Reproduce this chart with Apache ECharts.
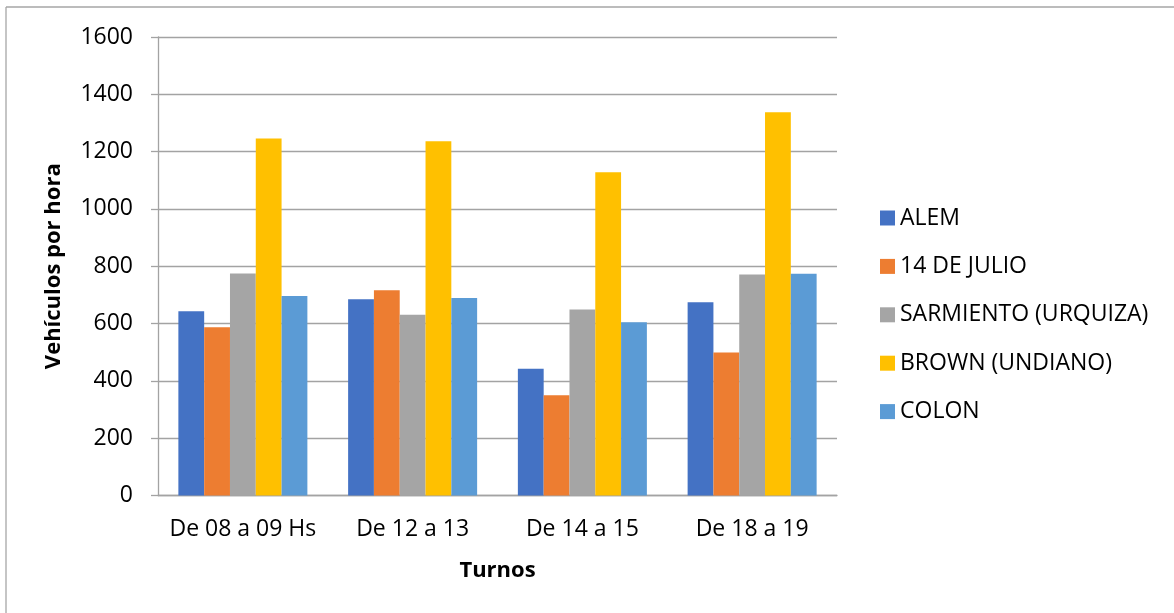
<!DOCTYPE html>
<html>
<head>
<meta charset="utf-8">
<script src="https://cdn.jsdelivr.net/npm/echarts@6/dist/echarts.min.js"></script>
<style>
  html, body { margin: 0; padding: 0; background: #fff; }
  #chart { width: 1174px; height: 613px; }
</style>
</head>
<body>
<div id="chart"></div>
<script>
// Vehículos por hora en cada intersección, por turno
const turnos = ['De 08 a 09 Hs', 'De 12 a 13', 'De 14 a 15', 'De 18 a 19'];
const alem = [643, 685, 442, 674];
const catorceDeJulio = [587, 716, 350, 499];
const sarmiento = [775, 631, 649, 771];
const brown = [1246, 1236, 1128, 1337];
const colon = [696, 689, 605, 774];
const yTicks = { min: 0, max: 1600, interval: 200 };

const FONT = "'Open Sans', 'Noto Sans', sans-serif";
const GRID_COLOR = '#a3a3a3';

const seriesDefs = [
  { name: 'ALEM', data: alem, color: '#4472C4' },
  { name: '14 DE JULIO', data: catorceDeJulio, color: '#ED7D31' },
  { name: 'SARMIENTO (URQUIZA)', data: sarmiento, color: '#A5A5A5' },
  { name: 'BROWN (UNDIANO)', data: brown, color: '#FFC000' },
  { name: 'COLON', data: colon, color: '#5B9BD5' }
];

const chart = echarts.init(document.getElementById('chart'), null, { renderer: 'canvas' });

chart.setOption({
  backgroundColor: '#fff',
  animation: false,
  textStyle: { fontFamily: FONT },
  grid: { left: 158, top: 37, right: 337, bottom: 117.5, containLabel: false },
  legend: {
    orient: 'vertical',
    left: 880,
    top: 206.5,
    padding: 0,
    itemWidth: 15,
    itemHeight: 15,
    itemGap: 25.4,
    icon: 'rect',
    textStyle: { fontFamily: FONT, fontSize: 23, color: '#000' },
    data: seriesDefs.map(s => s.name)
  },
  xAxis: {
    type: 'category',
    data: turnos,
    name: 'Turnos',
    nameLocation: 'middle',
    nameGap: 64,
    nameTextStyle: { fontFamily: FONT, fontSize: 22, fontWeight: 'bold', color: '#000' },
    axisTick: { show: false },
    axisLine: { show: true, lineStyle: { color: GRID_COLOR, width: 1.3 } },
    axisLabel: { interval: 0, fontFamily: FONT, fontSize: 23, color: '#000', margin: 22, lineHeight: 24 }
  },
  yAxis: {
    type: 'value',
    min: yTicks.min,
    max: yTicks.max,
    interval: yTicks.interval,
    name: 'Vehículos por hora',
    nameLocation: 'middle',
    nameRotate: 90,
    nameGap: 93,
    nameTextStyle: { fontFamily: FONT, fontSize: 22, fontWeight: 'bold', color: '#000' },
    axisLine: { show: true, lineStyle: { color: GRID_COLOR, width: 1.3 } },
    axisTick: { show: true, inside: false, length: 7, lineStyle: { color: GRID_COLOR, width: 1.3 } },
    splitLine: { show: true, lineStyle: { color: GRID_COLOR, width: 1.3 } },
    axisLabel: { fontFamily: FONT, fontSize: 23, color: '#000', margin: 25, formatter: v => String(v) }
  },
  series: seriesDefs.map(s => ({
    name: s.name,
    type: 'bar',
    data: s.data,
    barGap: '0%',
    barCategoryGap: '24%',
    itemStyle: { color: s.color }
  })),
  graphic: [
    // outer frame (top and left edges)
    { type: 'line', shape: { x1: 6, y1: 7, x2: 1174, y2: 7 }, style: { stroke: '#a6a6a6', lineWidth: 1.3 } },
    { type: 'line', shape: { x1: 6, y1: 7, x2: 6, y2: 613 }, style: { stroke: '#a6a6a6', lineWidth: 1.3 } }
  ]
});
</script>
</body>
</html>
